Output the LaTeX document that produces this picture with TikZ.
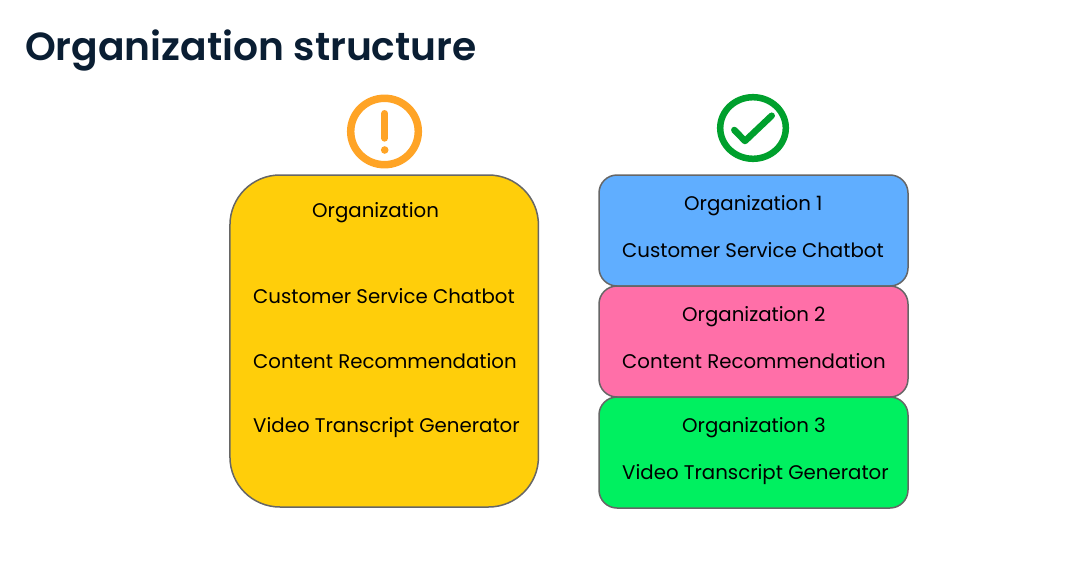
\documentclass[tikz,border=0pt]{standalone}
\usepackage{fontspec}
\setmainfont{Poppins}
\newfontfamily\titlefont{Poppins SemiBold}
\definecolor{ttl}{HTML}{0A1E33}
\definecolor{edge}{HTML}{666666}
\definecolor{cyel}{HTML}{FFCE0A}
\definecolor{cblu}{HTML}{60AEFF}
\definecolor{cpnk}{HTML}{FF6FA8}
\definecolor{cgrn}{HTML}{00F060}
\definecolor{cora}{HTML}{FFA426}
\definecolor{cchk}{HTML}{00A02D}
\begin{document}
\begin{tikzpicture}[x=1pt,y=-1pt,
 orgbox/.style={draw=edge,line width=1.5pt,inner sep=0pt,minimum width=309pt,minimum height=111pt,rounded corners=18pt},
 lab/.style={font=\fontsize{19.75}{24}\selectfont,text=black,inner sep=0pt,anchor=base west}]
\useasboundingbox[fill=white] (0,0) rectangle (1089,586);
\node[font=\titlefont\fontsize{39.2}{46}\selectfont,text=ttl,inner sep=0pt,anchor=base west] (title) at (25,60) {Organization structure};
\node[orgbox,fill=cyel,minimum width=308.5pt,minimum height=332pt,rounded corners=50pt] (big) at (384.2,341) {};
\node[orgbox,fill=cblu] (b1) at (753.5,230.5) {};
\node[orgbox,fill=cpnk] (b2) at (753.5,341.5) {};
\node[orgbox,fill=cgrn] (b3) at (753.5,452.5) {};
\node[lab] (l0) at (312,217.3) {Organization};
\node[lab] (l1) at (253,303.3) {Customer Service Chatbot};
\node[lab] (l2) at (253,368.3) {Content Recommendation};
\node[lab] (l3) at (253,432.3) {Video Transcript Generator};
\node[lab] (r1) at (684,210.3) {Organization 1};
\node[lab] (r2) at (622,257.3) {Customer Service Chatbot};
\node[lab] (r3) at (682,321.3) {Organization 2};
\node[lab] (r4) at (622,368.3) {Content Recommendation};
\node[lab] (r5) at (682,432.3) {Organization 3};
\node[lab] (r6) at (622,479.3) {Video Transcript Generator};
% warning icon
\draw[cora,line width=7.5pt] (384.5,131.5) ellipse [x radius=33.8,y radius=33.2];
\draw[cora,line width=7pt,line cap=round] (384.7,113.5) -- (384.7,138.2);
\fill[cora] (384.7,150) circle (3.8);
% check icon
\draw[cchk,line width=6.5pt] (753,128) ellipse [x radius=32.8,y radius=30.8];
\draw[cchk,line width=6.5pt,line cap=round,line join=round] (734.3,130) -- (745,141) -- (771.7,115.7);
\end{tikzpicture}
\end{document}
